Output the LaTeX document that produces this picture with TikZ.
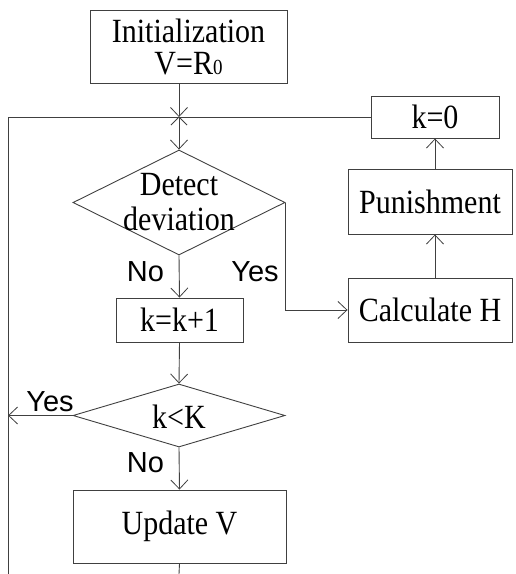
\documentclass[tikz,border=0pt]{standalone}
\usepackage{fontspec}
\usepackage{graphicx}
\setmainfont{Liberation Serif}
\newfontfamily\arialf{Liberation Sans}
\usetikzlibrary{arrows.meta,shapes.geometric,calc}
\newcommand\talltxt[1]{\scalebox{1}[1.13]{#1}}
\begin{document}
\begin{tikzpicture}[x=1pt,y=-1pt,
  line width=0.9pt,
  lc/.style={draw=black!75},
  boxst/.style={draw=black!75,rectangle,inner sep=0pt,font=\fontsize{30}{33}\selectfont,text=black,align=center},
  dia/.style={draw=black!75,diamond,inner sep=0pt},
  lbl/.style={font=\arialf\fontsize{29}{29}\selectfont,text=black,inner sep=0pt},
  arr/.style={lc,-{Straight Barb[length=9pt,width=17pt,line width=0.8pt]}}]
\useasboundingbox (0,0) rectangle (515,574);
% nodes
\node[boxst,minimum width=197pt,minimum height=73pt] (init) at (188.5,46.5) {\talltxt{Initialization}\\[-1pt]\talltxt{V=R{\fontsize{19}{19}\selectfont 0}}};
\coordinate (junc) at (179,117);
\node[dia,minimum width=212pt,minimum height=105pt] (dd) at (179,202.5) {};
\node[font=\fontsize{30}{35}\selectfont,align=center,inner sep=0pt] (ddt) at (179,202.5) {\talltxt{Detect}\\\talltxt{deviation}};
\node[boxst,minimum width=127pt,minimum height=44pt] (kinc) at (179.5,320) {\talltxt{k=k+1}};
\node[dia,minimum width=212pt,minimum height=63pt] (kK) at (179,415.5) {};
\node[font=\fontsize{30}{30}\selectfont,inner sep=0pt] (kKt) at (179,417) {\talltxt{k<K}};
\node[boxst,minimum width=213pt,minimum height=73pt] (upd) at (179.5,526.5) {\talltxt{Update V}};
\node[boxst,minimum width=164pt,minimum height=64pt] (calc) at (430,310) {\talltxt{Calculate H}};
\node[boxst,minimum width=164pt,minimum height=65pt] (pun) at (430,201.5) {\talltxt{Punishment}};
\node[boxst,minimum width=128pt,minimum height=42pt] (kzero) at (435,117) {\talltxt{k=0}};
\coordinate (lefttop) at (8,117);
\coordinate (leftbot) at (8,574);
\coordinate (botmid) at (179,574);
% labels
\node[lbl] (no1) at (145.5,272) {No};
\node[lbl] (yes1) at (255,272) {Yes};
\node[lbl] (no2) at (145.5,463) {No};
\node[lbl] (yes2) at (50,402) {Yes};
% connectors
\draw[arr] (junc |- init.south) -- (junc);
\draw[lc] ($(junc)+(-8,8)$) -- (junc) -- ($(junc)+(8,8)$);
\draw[arr] (junc) -- (dd.north);
\draw[lc] (kzero.west) -- (lefttop) -- (leftbot);
\draw[arr] (dd.south) -- (kinc.north);
\draw[arr] (dd.east) |- (calc.west);
\draw[arr] (kzero.south |- calc.north) -- (kzero.south |- pun.south);
\draw[arr] (kzero.south |- pun.north) -- (kzero.south);
\draw[arr] (kinc.south) -- (kK.north);
\draw[arr] (kK.west) -- (kK.west -| leftbot);
\draw[arr] (kK.south) -- (upd.north);
\draw[lc] (upd.south) -- (botmid);
\end{tikzpicture}
\end{document}
